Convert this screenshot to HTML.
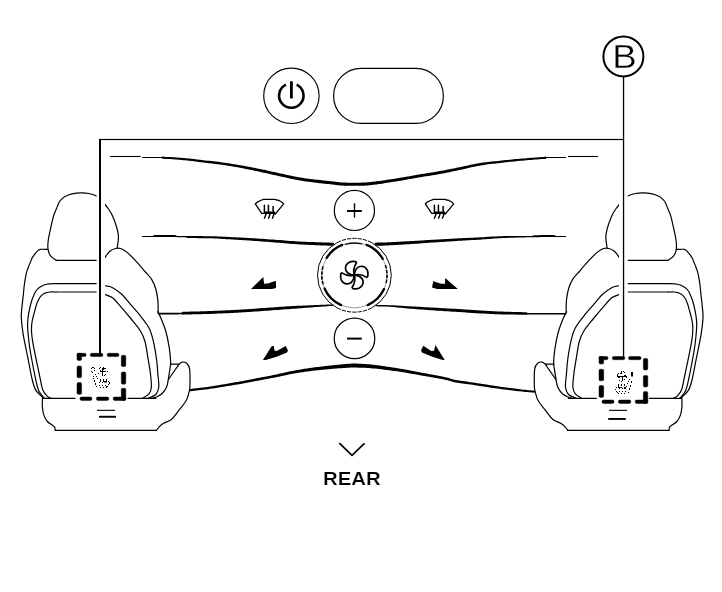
<!DOCTYPE html>
<html><head><meta charset="utf-8"><title>Rear heated seat controls</title>
<style>
html,body{margin:0;padding:0;background:#fff;}
body{width:722px;height:592px;overflow:hidden;font-family:"Liberation Sans",sans-serif;}
svg{display:block;}
</style></head>
<body>
<svg width="722" height="592" viewBox="0 0 722 592">
<rect width="722" height="592" fill="#fff"/>
<g fill="none" stroke="#000" stroke-width="1.2" stroke-linecap="round" stroke-linejoin="round">
<g id="seat"><path d="M117.20,247.80 C117.28,247.25 117.52,245.80 117.70,244.50 C117.88,243.20 118.20,241.58 118.30,240.00 C118.40,238.42 118.47,236.75 118.30,235.00 C118.13,233.25 117.73,231.30 117.30,229.50 C116.87,227.70 116.28,225.95 115.70,224.20 C115.12,222.45 114.48,220.70 113.80,219.00 C113.12,217.30 112.48,215.67 111.60,214.00 C110.72,212.33 109.60,210.58 108.50,209.00 C107.40,207.42 106.42,206.17 105.00,204.50 C103.58,202.83 101.50,200.45 100.00,199.00 C98.50,197.55 97.83,196.72 96.00,195.80 C94.17,194.88 91.50,194.00 89.00,193.50 C86.50,193.00 83.83,192.73 81.00,192.80 C78.17,192.87 74.67,193.28 72.00,193.90 C69.33,194.52 66.83,195.50 65.00,196.50 C63.17,197.50 62.02,198.87 61.00,199.90 C59.98,200.93 59.70,201.13 58.90,202.70 C58.10,204.27 57.10,207.07 56.20,209.30 C55.30,211.53 54.45,212.82 53.50,216.10 C52.55,219.38 51.37,225.02 50.50,229.00 C49.63,232.98 48.72,236.58 48.30,240.00 C47.88,243.42 47.58,246.80 48.00,249.50 C48.42,252.20 49.43,254.40 50.80,256.20 C52.17,258.00 55.30,259.62 56.20,260.30"/>
<path d="M56.2,260.3 L99,260.3 Q103,259.5 105.1,257.3"/>
<path d="M105.10,257.30 C105.90,256.28 108.20,252.67 109.90,251.20 C111.60,249.73 113.50,248.95 115.30,248.50 C117.10,248.05 118.68,247.82 120.70,248.50 C122.72,249.18 124.93,250.57 127.40,252.60 C129.87,254.63 132.57,257.55 135.50,260.70 C138.43,263.85 142.28,268.35 145.00,271.50 C147.72,274.65 150.00,276.68 151.80,279.60 C153.60,282.52 154.80,285.62 155.80,289.00 C156.80,292.38 157.40,295.95 157.80,299.90 C158.20,303.85 158.13,310.57 158.20,312.70"/>
<path d="M157.60,311.80 C158.08,312.70 159.10,313.83 160.50,317.20 C161.90,320.57 164.53,326.83 166.00,332.00 C167.47,337.17 168.52,343.02 169.30,348.20 C170.08,353.38 170.58,359.78 170.70,363.10 C170.82,366.42 170.35,365.68 170.00,368.10 C169.65,370.52 169.17,374.45 168.60,377.60 C168.03,380.75 167.72,384.30 166.60,387.00 C165.48,389.70 163.70,392.10 161.90,393.80 C160.10,395.50 157.38,396.45 155.80,397.20 C154.22,397.95 152.97,398.12 152.40,398.30"/>
<path d="M48.00,249.40 C47.33,249.38 45.32,249.30 44.00,249.30 C42.68,249.30 41.22,249.10 40.10,249.40 C38.98,249.70 38.28,250.18 37.30,251.10 C36.32,252.02 35.07,253.75 34.20,254.90 C33.33,256.05 32.73,256.78 32.10,258.00 C31.47,259.22 30.97,260.82 30.40,262.20 C29.83,263.58 29.28,264.80 28.70,266.30 C28.12,267.80 27.43,269.35 26.90,271.20 C26.37,273.05 25.93,275.10 25.50,277.40 C25.07,279.70 24.65,282.23 24.30,285.00 C23.95,287.77 23.80,290.23 23.40,294.00 C23.00,297.77 22.25,303.67 21.90,307.60 C21.55,311.53 21.10,313.23 21.30,317.60 C21.50,321.97 21.92,326.63 23.10,333.80 C24.28,340.97 26.87,352.90 28.40,360.60 C29.93,368.30 31.05,375.03 32.30,380.00 C33.55,384.97 34.17,387.50 35.90,390.40 C37.63,393.30 41.57,396.23 42.70,397.40"/>
<path d="M100,283.6 H60"/>
<path d="M60.00,283.60 C59.03,283.60 56.03,283.55 54.20,283.60 C52.37,283.65 50.58,283.70 49.00,283.90 C47.42,284.10 46.03,284.38 44.70,284.80 C43.37,285.22 42.12,285.77 41.00,286.40 C39.88,287.03 38.95,287.67 38.00,288.60 C37.05,289.53 36.10,290.63 35.30,292.00 C34.50,293.37 33.87,295.13 33.20,296.80 C32.53,298.47 31.85,300.20 31.30,302.00 C30.75,303.80 30.35,305.60 29.90,307.60 C29.45,309.60 28.95,311.88 28.60,314.00 C28.25,316.12 27.97,318.30 27.80,320.30 C27.63,322.30 27.58,324.22 27.60,326.00 C27.62,327.78 27.63,328.00 27.90,331.00 C28.17,334.00 28.62,339.58 29.20,344.00 C29.78,348.42 30.38,351.90 31.40,357.50 C32.42,363.10 34.10,372.12 35.30,377.60 C36.50,383.08 37.15,387.03 38.60,390.40 C40.05,393.77 43.10,396.57 44.00,397.80"/>
<path d="M100.00,283.80 C100.85,284.12 103.00,285.05 105.10,285.70 C107.20,286.35 109.78,286.23 112.60,287.70 C115.42,289.17 119.08,291.80 122.00,294.50 C124.92,297.20 127.05,300.35 130.10,303.90 C133.15,307.45 137.15,311.78 140.30,315.80 C143.45,319.82 146.87,323.95 149.00,328.00 C151.13,332.05 151.85,334.93 153.10,340.10 C154.35,345.27 155.72,353.43 156.50,359.00 C157.28,364.57 157.42,368.83 157.80,373.50 C158.18,378.17 159.13,383.50 158.80,387.00 C158.47,390.50 157.43,392.68 155.80,394.50 C154.17,396.32 150.13,397.33 149.00,397.90"/>
<path d="M100,292 H56"/>
<path d="M56.00,292.00 C55.02,292.00 51.68,291.90 50.10,292.00 C48.52,292.10 47.62,292.27 46.50,292.60 C45.38,292.93 44.38,293.37 43.40,294.00 C42.42,294.63 41.40,295.48 40.60,296.40 C39.80,297.32 39.25,298.23 38.60,299.50 C37.95,300.77 37.25,302.43 36.70,304.00 C36.15,305.57 35.82,307.07 35.30,308.90 C34.78,310.73 34.12,312.98 33.60,315.00 C33.08,317.02 32.55,319.00 32.20,321.00 C31.85,323.00 31.57,324.67 31.50,327.00 C31.43,329.33 31.52,332.07 31.80,335.00 C32.08,337.93 32.28,339.62 33.20,344.60 C34.12,349.58 36.10,359.05 37.30,364.90 C38.50,370.75 39.50,375.57 40.40,379.70 C41.30,383.83 41.63,387.02 42.70,389.70 C43.77,392.38 45.45,394.38 46.80,395.80 C48.15,397.22 50.13,397.80 50.80,398.20"/>
<path d="M100.00,292.00 C100.85,292.42 103.00,293.53 105.10,294.50 C107.20,295.47 110.00,295.78 112.60,297.80 C115.20,299.82 117.67,303.15 120.70,306.60 C123.73,310.05 127.53,314.48 130.80,318.50 C134.07,322.52 137.93,326.87 140.30,330.70 C142.67,334.53 143.77,337.22 145.00,341.50 C146.23,345.78 146.80,351.07 147.70,356.40 C148.60,361.73 149.78,368.40 150.40,373.50 C151.02,378.60 151.63,383.62 151.40,387.00 C151.17,390.38 150.40,391.98 149.00,393.80 C147.60,395.62 144.00,397.22 143.00,397.90"/>
<path d="M42.7,398.3 H75 M128,398.3 H156"/>
<path d="M42.40,398.00 C42.40,399.55 42.13,404.40 42.40,407.30 C42.67,410.20 43.17,413.03 44.00,415.40 C44.83,417.77 45.93,419.82 47.40,421.50 C48.87,423.18 51.60,424.60 52.80,425.50 C54.00,426.40 54.18,426.10 54.60,426.90 C55.02,427.70 55.18,429.73 55.30,430.30"/>
<path d="M55.3,430.3 H156.5"/>
<path d="M170.3,364.2 H178.3"/>
<path d="M178.10,364.90 C178.78,364.43 180.78,362.37 182.20,362.10 C183.62,361.83 185.37,362.15 186.60,363.30 C187.83,364.45 189.05,365.05 189.60,369.00 C190.15,372.95 190.02,383.10 189.90,387.00 C189.78,390.90 189.52,390.15 188.90,392.40 C188.28,394.65 188.00,397.33 186.20,400.50 C184.40,403.67 180.57,408.23 178.10,411.40 C175.63,414.57 173.88,417.48 171.40,419.50 C168.92,421.52 165.23,422.27 163.20,423.50 C161.17,424.73 160.32,425.77 159.20,426.90 C158.08,428.03 156.95,429.73 156.50,430.30"/>
<path d="M178.8,364.7 L168.4,379.5"/></g>
<g transform="translate(724.3,0) scale(-1,1)"><path d="M117.20,247.80 C117.28,247.25 117.52,245.80 117.70,244.50 C117.88,243.20 118.20,241.58 118.30,240.00 C118.40,238.42 118.47,236.75 118.30,235.00 C118.13,233.25 117.73,231.30 117.30,229.50 C116.87,227.70 116.28,225.95 115.70,224.20 C115.12,222.45 114.48,220.70 113.80,219.00 C113.12,217.30 112.48,215.67 111.60,214.00 C110.72,212.33 109.60,210.58 108.50,209.00 C107.40,207.42 106.42,206.17 105.00,204.50 C103.58,202.83 101.50,200.45 100.00,199.00 C98.50,197.55 97.83,196.72 96.00,195.80 C94.17,194.88 91.50,194.00 89.00,193.50 C86.50,193.00 83.83,192.73 81.00,192.80 C78.17,192.87 74.67,193.28 72.00,193.90 C69.33,194.52 66.83,195.50 65.00,196.50 C63.17,197.50 62.02,198.87 61.00,199.90 C59.98,200.93 59.70,201.13 58.90,202.70 C58.10,204.27 57.10,207.07 56.20,209.30 C55.30,211.53 54.45,212.82 53.50,216.10 C52.55,219.38 51.37,225.02 50.50,229.00 C49.63,232.98 48.72,236.58 48.30,240.00 C47.88,243.42 47.58,246.80 48.00,249.50 C48.42,252.20 49.43,254.40 50.80,256.20 C52.17,258.00 55.30,259.62 56.20,260.30"/>
<path d="M56.2,260.3 L99,260.3 Q103,259.5 105.1,257.3"/>
<path d="M105.10,257.30 C105.90,256.28 108.20,252.67 109.90,251.20 C111.60,249.73 113.50,248.95 115.30,248.50 C117.10,248.05 118.68,247.82 120.70,248.50 C122.72,249.18 124.93,250.57 127.40,252.60 C129.87,254.63 132.57,257.55 135.50,260.70 C138.43,263.85 142.28,268.35 145.00,271.50 C147.72,274.65 150.00,276.68 151.80,279.60 C153.60,282.52 154.80,285.62 155.80,289.00 C156.80,292.38 157.40,295.95 157.80,299.90 C158.20,303.85 158.13,310.57 158.20,312.70"/>
<path d="M157.60,311.80 C158.08,312.70 159.10,313.83 160.50,317.20 C161.90,320.57 164.53,326.83 166.00,332.00 C167.47,337.17 168.52,343.02 169.30,348.20 C170.08,353.38 170.58,359.78 170.70,363.10 C170.82,366.42 170.35,365.68 170.00,368.10 C169.65,370.52 169.17,374.45 168.60,377.60 C168.03,380.75 167.72,384.30 166.60,387.00 C165.48,389.70 163.70,392.10 161.90,393.80 C160.10,395.50 157.38,396.45 155.80,397.20 C154.22,397.95 152.97,398.12 152.40,398.30"/>
<path d="M48.00,249.40 C47.33,249.38 45.32,249.30 44.00,249.30 C42.68,249.30 41.22,249.10 40.10,249.40 C38.98,249.70 38.28,250.18 37.30,251.10 C36.32,252.02 35.07,253.75 34.20,254.90 C33.33,256.05 32.73,256.78 32.10,258.00 C31.47,259.22 30.97,260.82 30.40,262.20 C29.83,263.58 29.28,264.80 28.70,266.30 C28.12,267.80 27.43,269.35 26.90,271.20 C26.37,273.05 25.93,275.10 25.50,277.40 C25.07,279.70 24.65,282.23 24.30,285.00 C23.95,287.77 23.80,290.23 23.40,294.00 C23.00,297.77 22.25,303.67 21.90,307.60 C21.55,311.53 21.10,313.23 21.30,317.60 C21.50,321.97 21.92,326.63 23.10,333.80 C24.28,340.97 26.87,352.90 28.40,360.60 C29.93,368.30 31.05,375.03 32.30,380.00 C33.55,384.97 34.17,387.50 35.90,390.40 C37.63,393.30 41.57,396.23 42.70,397.40"/>
<path d="M100,283.6 H60"/>
<path d="M60.00,283.60 C59.03,283.60 56.03,283.55 54.20,283.60 C52.37,283.65 50.58,283.70 49.00,283.90 C47.42,284.10 46.03,284.38 44.70,284.80 C43.37,285.22 42.12,285.77 41.00,286.40 C39.88,287.03 38.95,287.67 38.00,288.60 C37.05,289.53 36.10,290.63 35.30,292.00 C34.50,293.37 33.87,295.13 33.20,296.80 C32.53,298.47 31.85,300.20 31.30,302.00 C30.75,303.80 30.35,305.60 29.90,307.60 C29.45,309.60 28.95,311.88 28.60,314.00 C28.25,316.12 27.97,318.30 27.80,320.30 C27.63,322.30 27.58,324.22 27.60,326.00 C27.62,327.78 27.63,328.00 27.90,331.00 C28.17,334.00 28.62,339.58 29.20,344.00 C29.78,348.42 30.38,351.90 31.40,357.50 C32.42,363.10 34.10,372.12 35.30,377.60 C36.50,383.08 37.15,387.03 38.60,390.40 C40.05,393.77 43.10,396.57 44.00,397.80"/>
<path d="M100.00,283.80 C100.85,284.12 103.00,285.05 105.10,285.70 C107.20,286.35 109.78,286.23 112.60,287.70 C115.42,289.17 119.08,291.80 122.00,294.50 C124.92,297.20 127.05,300.35 130.10,303.90 C133.15,307.45 137.15,311.78 140.30,315.80 C143.45,319.82 146.87,323.95 149.00,328.00 C151.13,332.05 151.85,334.93 153.10,340.10 C154.35,345.27 155.72,353.43 156.50,359.00 C157.28,364.57 157.42,368.83 157.80,373.50 C158.18,378.17 159.13,383.50 158.80,387.00 C158.47,390.50 157.43,392.68 155.80,394.50 C154.17,396.32 150.13,397.33 149.00,397.90"/>
<path d="M100,292 H56"/>
<path d="M56.00,292.00 C55.02,292.00 51.68,291.90 50.10,292.00 C48.52,292.10 47.62,292.27 46.50,292.60 C45.38,292.93 44.38,293.37 43.40,294.00 C42.42,294.63 41.40,295.48 40.60,296.40 C39.80,297.32 39.25,298.23 38.60,299.50 C37.95,300.77 37.25,302.43 36.70,304.00 C36.15,305.57 35.82,307.07 35.30,308.90 C34.78,310.73 34.12,312.98 33.60,315.00 C33.08,317.02 32.55,319.00 32.20,321.00 C31.85,323.00 31.57,324.67 31.50,327.00 C31.43,329.33 31.52,332.07 31.80,335.00 C32.08,337.93 32.28,339.62 33.20,344.60 C34.12,349.58 36.10,359.05 37.30,364.90 C38.50,370.75 39.50,375.57 40.40,379.70 C41.30,383.83 41.63,387.02 42.70,389.70 C43.77,392.38 45.45,394.38 46.80,395.80 C48.15,397.22 50.13,397.80 50.80,398.20"/>
<path d="M100.00,292.00 C100.85,292.42 103.00,293.53 105.10,294.50 C107.20,295.47 110.00,295.78 112.60,297.80 C115.20,299.82 117.67,303.15 120.70,306.60 C123.73,310.05 127.53,314.48 130.80,318.50 C134.07,322.52 137.93,326.87 140.30,330.70 C142.67,334.53 143.77,337.22 145.00,341.50 C146.23,345.78 146.80,351.07 147.70,356.40 C148.60,361.73 149.78,368.40 150.40,373.50 C151.02,378.60 151.63,383.62 151.40,387.00 C151.17,390.38 150.40,391.98 149.00,393.80 C147.60,395.62 144.00,397.22 143.00,397.90"/>
<path d="M42.7,398.3 H75 M128,398.3 H156"/>
<path d="M42.40,398.00 C42.40,399.55 42.13,404.40 42.40,407.30 C42.67,410.20 43.17,413.03 44.00,415.40 C44.83,417.77 45.93,419.82 47.40,421.50 C48.87,423.18 51.60,424.60 52.80,425.50 C54.00,426.40 54.18,426.10 54.60,426.90 C55.02,427.70 55.18,429.73 55.30,430.30"/>
<path d="M55.3,430.3 H156.5"/>
<path d="M170.3,364.2 H178.3"/>
<path d="M178.10,364.90 C178.78,364.43 180.78,362.37 182.20,362.10 C183.62,361.83 185.37,362.15 186.60,363.30 C187.83,364.45 189.05,365.05 189.60,369.00 C190.15,372.95 190.02,383.10 189.90,387.00 C189.78,390.90 189.52,390.15 188.90,392.40 C188.28,394.65 188.00,397.33 186.20,400.50 C184.40,403.67 180.57,408.23 178.10,411.40 C175.63,414.57 173.88,417.48 171.40,419.50 C168.92,421.52 165.23,422.27 163.20,423.50 C161.17,424.73 160.32,425.77 159.20,426.90 C158.08,428.03 156.95,429.73 156.50,430.30"/>
<path d="M178.8,364.7 L168.4,379.5"/></g>
</g>
<rect x="96.6" y="150" width="8.4" height="204" fill="#fff"/>
<rect x="619" y="150" width="8.8" height="207" fill="#fff"/>
<rect x="99" y="138.9" width="2" height="215.5" fill="#000"/>
<rect x="99" y="138.9" width="525" height="1.2" fill="#000"/>
<rect x="622.9" y="76" width="1.3" height="281" fill="#000"/>
<g fill="#000" stroke="#000" stroke-width="0.45"><rect x="77.0" y="353.3" width="9.0" height="3.3" rx="1.4"/><rect x="77.0" y="353.3" width="4.6" height="7.2" rx="1.4"/><rect x="90.3" y="353.3" width="12.5" height="3.3" rx="1.4"/><rect x="107.2" y="353.3" width="11.7" height="3.3" rx="1.4"/><rect x="121.3" y="355.3" width="4.5" height="11.3" rx="1.4"/><rect x="121.3" y="372.0" width="4.5" height="12.2" rx="1.4"/><rect x="121.3" y="388.2" width="4.5" height="12.2" rx="1.4"/><rect x="77.0" y="366.0" width="4.6" height="11.8" rx="1.4"/><rect x="77.0" y="382.6" width="4.6" height="11.7" rx="1.4"/><rect x="80.0" y="397.0" width="11.9" height="3.4" rx="1.4"/><rect x="96.4" y="397.0" width="12.4" height="3.4" rx="1.4"/><rect x="113.2" y="397.0" width="12.6" height="3.4" rx="1.4"/><rect x="599.0" y="356.5" width="9.0" height="3.2" rx="1.4"/><rect x="599.0" y="356.5" width="4.7" height="7.5" rx="1.4"/><rect x="612.3" y="356.5" width="12.5" height="3.2" rx="1.4"/><rect x="628.5" y="356.5" width="12.5" height="3.2" rx="1.4"/><rect x="643.3" y="358.5" width="4.5" height="11.5" rx="1.4"/><rect x="643.3" y="375.4" width="4.5" height="11.6" rx="1.4"/><rect x="643.3" y="391.6" width="4.5" height="11.8" rx="1.4"/><rect x="599.0" y="369.3" width="4.7" height="11.5" rx="1.4"/><rect x="599.0" y="385.5" width="4.7" height="11.9" rx="1.4"/><rect x="602.0" y="400.0" width="12.0" height="3.4" rx="1.4"/><rect x="618.4" y="400.0" width="12.4" height="3.4" rx="1.4"/><rect x="635.2" y="400.0" width="12.6" height="3.4" rx="1.4"/></g>
<g fill="#000"><rect x="97" y="409.8" width="18" height="1.1"/><rect x="99" y="415.8" width="17" height="1.9"/><rect x="609" y="409.8" width="18" height="1.1"/><rect x="608.2" y="418" width="17.6" height="1.9"/></g>
<g fill="#000"><rect x="92.0" y="367.0" width="2.0" height="1.0"/><rect x="91.0" y="368.0" width="1.0" height="1.0"/><rect x="94.0" y="368.0" width="1.0" height="1.0"/><rect x="94.0" y="370.0" width="1.0" height="1.0"/><rect x="91.0" y="371.0" width="1.0" height="1.0"/><rect x="92.0" y="372.0" width="1.0" height="1.0"/><rect x="95.0" y="374.0" width="1.0" height="1.0"/><rect x="98.0" y="373.0" width="1.0" height="1.0"/><rect x="93.0" y="376.0" width="1.0" height="1.0"/><rect x="96.0" y="376.0" width="1.0" height="1.0"/><rect x="93.0" y="378.0" width="1.0" height="1.0"/><rect x="97.0" y="378.0" width="1.0" height="1.0"/><rect x="94.0" y="380.0" width="1.0" height="2.0"/><rect x="95.0" y="383.0" width="1.0" height="2.0"/><rect x="96.0" y="386.0" width="1.0" height="1.0"/><rect x="100.0" y="367.0" width="1.0" height="1.0"/><rect x="99.0" y="368.0" width="1.0" height="1.0"/><rect x="103.0" y="367.0" width="1.0" height="1.0"/><rect x="103.0" y="368.0" width="3.0" height="1.0"/><rect x="102.0" y="369.0" width="2.0" height="1.0"/><rect x="100.0" y="370.0" width="1.0" height="1.0"/><rect x="100.0" y="371.0" width="6.0" height="1.0"/><rect x="107.0" y="371.0" width="1.0" height="1.0"/><rect x="102.0" y="368.0" width="1.0" height="8.0"/><rect x="105.0" y="374.0" width="1.0" height="1.0"/><rect x="104.0" y="375.0" width="1.0" height="1.0"/><rect x="100.0" y="379.0" width="1.0" height="3.0"/><rect x="99.0" y="382.0" width="1.0" height="1.0"/><rect x="103.0" y="379.0" width="1.0" height="3.0"/><rect x="102.0" y="382.0" width="1.0" height="1.0"/><rect x="106.0" y="379.0" width="1.0" height="3.0"/><rect x="104.0" y="381.0" width="3.0" height="1.5"/><rect x="108.0" y="381.0" width="1.0" height="1.0"/><rect x="109.0" y="382.0" width="1.0" height="2.0"/><rect x="108.0" y="384.0" width="1.0" height="1.0"/><rect x="99.0" y="385.0" width="1.0" height="1.0"/><rect x="100.0" y="387.0" width="1.0" height="1.0"/><rect x="102.0" y="385.0" width="1.0" height="1.0"/><rect x="103.0" y="387.0" width="1.0" height="1.0"/><rect x="105.0" y="385.0" width="1.0" height="1.0"/><rect x="106.0" y="386.0" width="1.0" height="2.0"/><rect x="107.0" y="386.0" width="1.0" height="1.0"/><rect x="621.0" y="371.0" width="1.0" height="3.0"/><rect x="623.0" y="371.0" width="1.0" height="1.0"/><rect x="624.0" y="372.0" width="1.0" height="1.0"/><rect x="618.0" y="373.0" width="1.0" height="1.0"/><rect x="620.0" y="373.0" width="1.0" height="1.0"/><rect x="617.0" y="374.0" width="1.0" height="3.0"/><rect x="617.0" y="376.0" width="9.0" height="1.0"/><rect x="618.0" y="377.0" width="2.0" height="1.0"/><rect x="624.0" y="375.0" width="2.0" height="1.0"/><rect x="626.0" y="376.0" width="1.0" height="2.0"/><rect x="622.0" y="376.0" width="1.0" height="5.0"/><rect x="619.0" y="380.0" width="1.0" height="1.0"/><rect x="624.0" y="379.0" width="1.0" height="1.0"/><rect x="621.0" y="381.0" width="1.0" height="1.0"/><rect x="631.0" y="372.0" width="2.0" height="4.5"/><rect x="629.0" y="379.0" width="1.0" height="1.0"/><rect x="628.0" y="381.0" width="1.0" height="1.0"/><rect x="631.0" y="381.0" width="1.0" height="2.0"/><rect x="627.0" y="383.0" width="1.0" height="1.0"/><rect x="630.0" y="385.0" width="1.0" height="2.0"/><rect x="629.0" y="388.0" width="1.0" height="2.0"/><rect x="628.0" y="392.0" width="1.0" height="1.0"/><rect x="618.0" y="384.0" width="1.0" height="4.0"/><rect x="621.0" y="384.0" width="1.0" height="2.0"/><rect x="624.0" y="384.0" width="1.0" height="2.0"/><rect x="626.0" y="386.0" width="1.0" height="1.0"/><rect x="619.0" y="387.0" width="3.0" height="1.0"/><rect x="619.0" y="388.0" width="1.0" height="1.0"/><rect x="622.0" y="388.0" width="1.0" height="1.0"/><rect x="624.0" y="387.0" width="2.0" height="2.0"/><rect x="616.0" y="387.0" width="1.0" height="1.0"/><rect x="615.0" y="389.0" width="1.0" height="1.0"/><rect x="616.0" y="391.0" width="1.0" height="1.0"/><rect x="617.0" y="392.0" width="1.0" height="1.0"/><rect x="618.0" y="393.0" width="1.0" height="1.0"/><rect x="619.0" y="391.0" width="1.0" height="1.0"/><rect x="622.0" y="391.0" width="1.0" height="1.0"/><rect x="625.0" y="391.0" width="1.0" height="1.0"/><rect x="621.0" y="393.0" width="1.0" height="1.0"/><rect x="624.0" y="393.0" width="1.0" height="1.0"/></g>
<path d="M110.00,157.05 L111.96,157.05 L114.67,157.05 L117.92,157.05 L121.54,157.05 L125.35,157.05 L129.16,157.05 L132.78,157.05 L136.03,157.05 L138.74,157.05 L140.70,157.05 L140.70,155.95 L138.74,155.95 L136.03,155.95 L132.78,155.95 L129.16,155.95 L125.35,155.95 L121.54,155.95 L117.92,155.95 L114.67,155.95 L111.96,155.95 L110.00,155.95Z" fill="#000"/>
<path d="M142.00,158.05 L143.24,158.05 L144.95,158.05 L147.00,158.04 L149.29,158.04 L151.69,158.03 L154.10,158.03 L156.40,158.03 L158.47,158.03 L160.21,158.04 L161.49,158.05 L162.29,158.43 L162.68,158.54 L162.45,158.45 L162.61,156.63 L162.53,156.64 L162.30,156.70 L162.05,156.84 L161.46,157.23 L162.04,158.61 L162.43,158.80 L163.00,158.83 L163.66,158.85 L164.42,158.87 L165.26,158.90 L166.16,158.92 L167.10,158.94 L168.07,158.97 L169.04,159.01 L170.01,159.05 L170.94,159.10 L171.87,159.16 L172.82,159.23 L173.78,159.31 L174.76,159.39 L175.76,159.48 L176.77,159.57 L177.79,159.66 L178.82,159.75 L179.86,159.85 L180.91,159.95 L181.98,160.04 L183.09,160.14 L184.23,160.24 L185.38,160.35 L186.53,160.45 L187.67,160.56 L188.79,160.67 L189.87,160.78 L190.90,160.88 L191.88,160.99 L192.73,161.10 L193.45,161.19 L194.08,161.29 L194.67,161.38 L195.26,161.48 L195.91,161.58 L196.65,161.70 L197.53,161.83 L198.58,161.97 L199.86,162.14 L201.38,162.32 L203.11,162.52 L204.99,162.73 L207.01,162.95 L209.12,163.18 L211.29,163.43 L213.49,163.68 L215.67,163.94 L217.79,164.21 L219.84,164.49 L221.83,164.77 L223.82,165.07 L225.82,165.37 L227.81,165.69 L229.81,166.01 L231.80,166.34 L233.79,166.68 L235.79,167.02 L237.79,167.37 L239.78,167.73 L241.77,168.10 L243.77,168.49 L245.76,168.88 L247.75,169.27 L249.74,169.68 L251.74,170.08 L253.73,170.50 L255.73,170.92 L257.72,171.34 L259.71,171.77 L261.71,172.19 L263.70,172.63 L265.70,173.07 L267.69,173.52 L269.69,173.97 L271.69,174.43 L273.69,174.88 L275.69,175.33 L277.69,175.78 L279.69,176.22 L281.69,176.66 L283.68,177.10 L285.68,177.55 L287.68,178.01 L289.69,178.45 L291.69,178.89 L293.70,179.32 L295.71,179.73 L297.73,180.12 L299.75,180.48 L301.80,180.82 L303.91,181.14 L306.05,181.44 L308.19,181.73 L310.31,182.00 L312.40,182.25 L314.41,182.49 L316.33,182.72 L318.14,182.94 L319.82,183.14 L321.35,183.32 L322.77,183.49 L324.08,183.63 L325.31,183.76 L326.47,183.89 L327.57,184.00 L328.64,184.11 L329.70,184.22 L330.75,184.33 L331.83,184.44 L332.89,184.56 L333.91,184.68 L334.89,184.81 L335.85,184.93 L336.81,185.05 L337.77,185.17 L338.75,185.28 L339.76,185.38 L340.81,185.47 L341.90,185.55 L343.04,185.61 L344.21,185.66 L345.41,185.70 L346.62,185.73 L347.85,185.76 L349.09,185.78 L350.33,185.79 L351.56,185.80 L352.79,185.80 L354.00,185.80 L355.23,185.80 L356.51,185.79 L357.81,185.77 L359.11,185.75 L360.41,185.73 L361.67,185.70 L362.89,185.67 L364.04,185.63 L365.10,185.59 L366.07,185.55 L366.92,185.50 L367.66,185.45 L368.31,185.40 L368.90,185.35 L369.43,185.29 L369.94,185.22 L370.44,185.16 L370.97,185.09 L371.53,185.02 L372.18,184.94 L372.83,184.86 L373.44,184.79 L374.04,184.72 L374.65,184.65 L375.30,184.58 L376.03,184.48 L376.85,184.38 L377.81,184.24 L378.92,184.08 L380.22,183.88 L381.73,183.66 L383.45,183.40 L385.34,183.11 L387.36,182.80 L389.47,182.47 L391.65,182.12 L393.85,181.77 L396.04,181.42 L398.18,181.07 L400.24,180.73 L402.24,180.39 L404.25,180.05 L406.25,179.70 L408.25,179.34 L410.26,178.99 L412.26,178.63 L414.25,178.27 L416.25,177.92 L418.25,177.57 L420.24,177.23 L422.23,176.90 L424.23,176.58 L426.22,176.26 L428.22,175.95 L430.22,175.64 L432.23,175.33 L434.23,175.01 L436.24,174.68 L438.25,174.33 L440.26,173.98 L442.27,173.59 L444.27,173.20 L446.28,172.79 L448.28,172.38 L450.28,171.96 L452.28,171.53 L454.28,171.10 L456.28,170.67 L458.28,170.25 L460.28,169.82 L462.28,169.39 L464.29,168.94 L466.29,168.48 L468.29,168.03 L470.28,167.57 L472.27,167.12 L474.26,166.69 L476.24,166.28 L478.23,165.89 L480.21,165.53 L482.19,165.20 L484.17,164.90 L486.15,164.62 L488.14,164.36 L490.13,164.11 L492.13,163.87 L494.12,163.64 L496.12,163.41 L498.12,163.18 L500.12,162.94 L502.12,162.72 L504.12,162.49 L506.12,162.27 L508.11,162.05 L510.11,161.84 L512.11,161.63 L514.10,161.43 L516.10,161.23 L518.10,161.04 L520.09,160.85 L522.16,160.66 L524.32,160.47 L526.54,160.28 L528.78,160.09 L530.99,159.91 L533.12,159.74 L535.14,159.58 L537.00,159.43 L538.66,159.31 L540.07,159.20 L541.22,159.12 L542.16,159.06 L542.91,159.02 L543.50,158.99 L543.97,158.97 L544.35,158.96 L544.67,158.96 L544.97,158.94 L545.28,158.93 L545.63,158.89 L546.05,158.70 L546.15,157.03 L545.79,156.83 L545.55,156.75 L545.38,156.71 L545.51,156.78 L545.35,158.52 L545.29,158.55 L545.71,158.45 L546.51,158.05 L547.79,158.03 L549.53,158.02 L551.60,158.02 L553.90,158.02 L556.31,158.02 L558.71,158.03 L561.00,158.04 L563.05,158.04 L564.76,158.05 L566.00,158.05 L566.00,156.95 L564.76,156.95 L563.05,156.94 L561.00,156.94 L558.72,156.93 L556.31,156.93 L553.90,156.92 L551.60,156.92 L549.53,156.92 L547.78,156.93 L546.49,156.95 L545.63,156.60 L545.09,156.56 L544.62,156.66 L544.46,158.49 L544.87,158.65 L545.12,158.70 L545.30,158.72 L545.23,158.61 L545.35,157.02 L545.37,156.91 L545.12,156.93 L544.87,156.95 L544.61,156.96 L544.29,156.97 L543.91,156.98 L543.42,156.99 L542.81,157.02 L542.04,157.06 L541.09,157.12 L539.93,157.20 L538.51,157.30 L536.85,157.42 L534.99,157.56 L532.97,157.71 L530.83,157.87 L528.61,158.04 L526.37,158.22 L524.14,158.39 L521.97,158.58 L519.91,158.75 L517.90,158.93 L515.90,159.12 L513.90,159.31 L511.89,159.50 L509.89,159.70 L507.89,159.91 L505.88,160.11 L503.88,160.32 L501.88,160.54 L499.88,160.76 L497.88,160.96 L495.88,161.16 L493.88,161.36 L491.87,161.56 L489.87,161.77 L487.86,161.99 L485.85,162.23 L483.83,162.48 L481.81,162.76 L479.79,163.07 L477.77,163.41 L475.76,163.78 L473.74,164.18 L471.73,164.60 L469.72,165.03 L467.71,165.47 L465.71,165.91 L463.71,166.34 L461.72,166.77 L459.72,167.18 L457.72,167.58 L455.72,167.99 L453.72,168.40 L451.72,168.81 L449.72,169.21 L447.72,169.61 L445.72,170.01 L443.73,170.39 L441.73,170.76 L439.74,171.12 L437.75,171.48 L435.76,171.82 L433.77,172.14 L431.77,172.46 L429.78,172.78 L427.78,173.09 L425.78,173.40 L423.77,173.71 L421.77,174.04 L419.76,174.37 L417.75,174.71 L415.75,175.06 L413.75,175.42 L411.74,175.77 L409.74,176.13 L407.75,176.49 L405.75,176.84 L403.75,177.19 L401.76,177.54 L399.76,177.87 L397.71,178.20 L395.58,178.54 L393.39,178.88 L391.20,179.22 L389.03,179.55 L386.91,179.87 L384.90,180.17 L383.01,180.45 L381.29,180.70 L379.78,180.92 L378.49,181.09 L377.39,181.24 L376.46,181.36 L375.65,181.46 L374.95,181.54 L374.31,181.60 L373.71,181.67 L373.12,181.73 L372.50,181.79 L371.82,181.86 L371.16,181.94 L370.57,182.01 L370.04,182.08 L369.55,182.15 L369.07,182.21 L368.58,182.26 L368.04,182.31 L367.44,182.36 L366.74,182.41 L365.93,182.45 L364.98,182.49 L363.93,182.53 L362.80,182.57 L361.59,182.60 L360.34,182.63 L359.06,182.65 L357.77,182.67 L356.48,182.69 L355.22,182.70 L354.00,182.70 L352.79,182.70 L351.57,182.70 L350.35,182.69 L349.12,182.68 L347.90,182.66 L346.69,182.64 L345.50,182.60 L344.33,182.56 L343.20,182.51 L342.10,182.45 L341.05,182.38 L340.05,182.29 L339.08,182.20 L338.13,182.09 L337.19,181.98 L336.24,181.86 L335.28,181.73 L334.29,181.61 L333.25,181.48 L332.17,181.36 L331.08,181.24 L330.01,181.13 L328.96,181.02 L327.89,180.91 L326.78,180.80 L325.64,180.68 L324.42,180.55 L323.12,180.41 L321.71,180.24 L320.18,180.06 L318.50,179.86 L316.69,179.66 L314.77,179.44 L312.76,179.21 L310.69,178.97 L308.58,178.71 L306.45,178.44 L304.34,178.15 L302.27,177.84 L300.25,177.52 L298.27,177.18 L296.29,176.80 L294.30,176.41 L292.31,176.00 L290.31,175.57 L288.32,175.14 L286.32,174.70 L284.32,174.25 L282.31,173.81 L280.31,173.38 L278.31,172.95 L276.31,172.52 L274.31,172.08 L272.31,171.64 L270.31,171.19 L268.31,170.75 L266.30,170.31 L264.30,169.87 L262.29,169.45 L260.29,169.03 L258.28,168.63 L256.27,168.23 L254.27,167.84 L252.26,167.46 L250.26,167.07 L248.25,166.70 L246.24,166.33 L244.23,165.97 L242.23,165.61 L240.22,165.27 L238.21,164.92 L236.21,164.58 L234.21,164.24 L232.20,163.91 L230.19,163.59 L228.19,163.28 L226.18,162.97 L224.18,162.67 L222.17,162.39 L220.16,162.11 L218.10,161.84 L215.95,161.58 L213.76,161.33 L211.55,161.09 L209.38,160.85 L207.26,160.63 L205.24,160.42 L203.36,160.22 L201.64,160.03 L200.14,159.86 L198.87,159.71 L197.83,159.58 L196.98,159.46 L196.25,159.36 L195.61,159.26 L195.01,159.17 L194.40,159.08 L193.75,158.99 L193.00,158.90 L192.12,158.81 L191.13,158.71 L190.08,158.60 L188.99,158.51 L187.87,158.41 L186.72,158.31 L185.56,158.21 L184.41,158.12 L183.27,158.03 L182.16,157.94 L181.09,157.85 L180.04,157.77 L179.00,157.68 L177.97,157.60 L176.94,157.52 L175.93,157.44 L174.93,157.36 L173.94,157.29 L172.96,157.22 L172.00,157.16 L171.06,157.10 L170.10,157.05 L169.12,157.01 L168.14,156.97 L167.16,156.94 L166.21,156.92 L165.31,156.90 L164.48,156.87 L163.73,156.85 L163.08,156.83 L162.57,156.80 L162.32,156.92 L162.77,158.24 L162.41,158.56 L162.59,158.63 L162.84,158.62 L163.13,158.56 L163.39,156.69 L162.85,156.54 L162.35,156.60 L161.51,156.95 L160.21,156.94 L158.47,156.93 L156.40,156.93 L154.10,156.93 L151.69,156.93 L149.28,156.94 L147.00,156.94 L144.95,156.95 L143.24,156.95 L142.00,156.95Z" fill="#000"/>
<path d="M568.00,157.05 L569.92,157.05 L572.56,157.05 L575.74,157.05 L579.28,157.05 L583.00,157.05 L586.72,157.05 L590.26,157.05 L593.44,157.05 L596.08,157.05 L598.00,157.05 L598.00,155.95 L596.08,155.95 L593.44,155.95 L590.26,155.95 L586.72,155.95 L583.00,155.95 L579.28,155.95 L575.74,155.95 L572.56,155.95 L569.92,155.95 L568.00,155.95Z" fill="#000"/>
<path d="M142.00,237.05 L142.73,237.05 L143.73,237.06 L144.93,237.06 L146.27,237.07 L147.69,237.07 L149.10,237.08 L150.46,237.08 L151.69,237.08 L152.73,237.07 L153.52,237.05 L154.02,237.22 L154.84,236.64 L154.15,235.67 L153.84,235.71 L153.54,235.76 L153.35,235.72 L153.63,236.32 L153.30,236.71 L153.69,236.75 L154.52,237.10 L155.86,237.08 L157.67,237.07 L159.83,237.06 L162.23,237.05 L164.75,237.05 L167.27,237.05 L169.67,237.06 L171.83,237.07 L173.64,237.08 L174.98,237.10 L175.82,236.79 L176.22,236.75 L175.92,236.51 L176.17,235.67 L176.01,235.70 L175.73,235.69 L175.43,235.66 L174.72,236.31 L175.50,237.22 L175.97,237.10 L176.70,237.12 L177.64,237.13 L178.75,237.14 L179.97,237.15 L181.25,237.15 L182.53,237.15 L183.75,237.16 L184.85,237.17 L185.78,237.18 L186.47,237.20 L186.77,237.37 L186.53,236.00 L186.64,236.01 L186.37,236.15 L186.04,236.19 L185.72,236.25 L185.34,237.29 L185.88,237.52 L186.46,237.56 L187.47,238.00 L189.01,238.03 L190.99,238.06 L193.32,238.09 L195.91,238.12 L198.68,238.14 L201.53,238.17 L204.38,238.20 L207.12,238.24 L209.69,238.29 L211.97,238.35 L214.02,238.43 L215.94,238.51 L217.76,238.60 L219.52,238.70 L221.22,238.80 L222.90,238.91 L224.59,239.01 L226.31,239.13 L228.08,239.24 L229.94,239.35 L231.84,239.46 L233.73,239.56 L235.64,239.67 L237.55,239.78 L239.50,239.89 L241.48,240.01 L243.50,240.13 L245.58,240.26 L247.71,240.40 L249.92,240.55 L252.21,240.71 L254.59,240.88 L257.04,241.06 L259.55,241.25 L262.09,241.45 L264.66,241.64 L267.24,241.85 L269.82,242.05 L272.38,242.25 L274.90,242.45 L277.39,242.65 L279.89,242.85 L282.39,243.07 L284.89,243.28 L287.39,243.50 L289.89,243.71 L292.39,243.91 L294.90,244.10 L297.41,244.28 L299.92,244.45 L302.50,244.60 L305.19,244.74 L307.94,244.87 L310.71,244.99 L313.45,245.10 L316.10,245.21 L318.62,245.30 L320.97,245.39 L323.09,245.47 L324.94,245.55 L326.53,245.61 L327.91,245.66 L329.11,245.70 L330.13,245.73 L331.01,245.76 L331.77,245.78 L332.42,245.80 L332.99,245.82 L333.49,245.83 L333.95,245.85 L334.05,242.75 L333.58,242.74 L333.08,242.72 L332.51,242.70 L331.86,242.69 L331.11,242.66 L330.23,242.64 L329.21,242.60 L328.02,242.56 L326.65,242.51 L325.06,242.45 L323.20,242.39 L321.08,242.33 L318.73,242.26 L316.20,242.18 L313.55,242.10 L310.83,242.01 L308.07,241.91 L305.32,241.80 L302.65,241.68 L300.08,241.55 L297.59,241.41 L295.10,241.25 L292.61,241.08 L290.11,240.89 L287.61,240.70 L285.11,240.51 L282.61,240.32 L280.11,240.12 L277.61,239.93 L275.10,239.75 L272.58,239.58 L270.02,239.40 L267.44,239.21 L264.86,239.03 L262.28,238.85 L259.73,238.68 L257.22,238.51 L254.77,238.35 L252.38,238.19 L250.08,238.05 L247.86,237.92 L245.72,237.81 L243.64,237.70 L241.61,237.59 L239.63,237.50 L237.68,237.41 L235.76,237.32 L233.85,237.23 L231.96,237.14 L230.06,237.05 L228.21,236.96 L226.44,236.87 L224.72,236.78 L223.03,236.69 L221.34,236.60 L219.63,236.52 L217.87,236.44 L216.03,236.37 L214.09,236.30 L212.03,236.25 L209.73,236.20 L207.16,236.16 L204.40,236.13 L201.55,236.11 L198.70,236.10 L195.93,236.08 L193.34,236.07 L191.01,236.05 L189.04,236.03 L187.53,236.00 L186.52,236.36 L186.02,236.33 L186.21,236.47 L186.01,237.41 L186.21,237.38 L186.54,237.34 L186.88,237.39 L187.33,237.32 L186.99,235.88 L186.53,236.00 L185.80,235.98 L184.86,235.97 L183.75,235.96 L182.53,235.95 L181.25,235.95 L179.97,235.95 L178.75,235.94 L177.65,235.93 L176.72,235.92 L176.03,235.90 L175.70,235.72 L176.29,236.56 L175.81,237.12 L175.97,236.99 L176.24,236.88 L176.52,236.82 L176.95,235.89 L176.37,235.56 L175.88,235.46 L175.02,235.10 L173.66,235.08 L171.84,235.07 L169.67,235.06 L167.27,235.05 L164.75,235.05 L162.23,235.05 L159.83,235.06 L157.66,235.07 L155.84,235.08 L154.48,235.10 L153.63,235.51 L153.14,235.62 L152.56,236.08 L153.05,236.78 L153.33,236.84 L153.60,236.99 L153.76,237.13 L153.28,236.24 L153.86,235.73 L153.48,235.95 L152.72,235.97 L151.68,235.98 L150.46,235.98 L149.10,235.98 L147.69,235.98 L146.28,235.97 L144.94,235.96 L143.73,235.96 L142.73,235.95 L142.00,235.95Z" fill="#000"/>
<path d="M374.82,245.75 L375.42,245.74 L376.16,245.73 L377.03,245.72 L378.02,245.71 L379.10,245.70 L380.25,245.68 L381.46,245.66 L382.71,245.63 L383.99,245.59 L385.26,245.55 L386.57,245.49 L387.94,245.43 L389.37,245.36 L390.84,245.28 L392.36,245.19 L393.89,245.10 L395.44,245.01 L397.00,244.92 L398.55,244.83 L400.09,244.75 L401.63,244.65 L403.19,244.56 L404.77,244.46 L406.37,244.36 L407.97,244.26 L409.56,244.16 L411.15,244.06 L412.72,243.95 L414.27,243.85 L415.79,243.75 L417.28,243.65 L418.72,243.54 L420.14,243.44 L421.54,243.33 L422.94,243.22 L424.33,243.11 L425.73,243.01 L427.15,242.90 L428.60,242.80 L430.09,242.70 L431.62,242.59 L433.20,242.49 L434.81,242.39 L436.45,242.29 L438.09,242.19 L439.73,242.09 L441.37,241.99 L442.97,241.90 L444.55,241.80 L446.08,241.70 L447.54,241.60 L448.92,241.51 L450.25,241.42 L451.56,241.32 L452.86,241.23 L454.17,241.14 L455.53,241.04 L456.95,240.95 L458.45,240.85 L460.07,240.75 L461.80,240.64 L463.63,240.54 L465.53,240.44 L467.50,240.33 L469.51,240.23 L471.56,240.12 L473.63,240.00 L475.69,239.89 L477.74,239.77 L479.77,239.65 L481.78,239.51 L483.80,239.36 L485.83,239.21 L487.87,239.05 L489.91,238.88 L491.95,238.73 L493.98,238.58 L496.01,238.44 L498.03,238.31 L500.04,238.20 L502.08,238.09 L504.16,238.00 L506.26,237.92 L508.37,237.84 L510.47,237.78 L512.53,237.72 L514.53,237.67 L516.46,237.61 L518.30,237.56 L520.01,237.50 L521.65,237.46 L523.25,237.42 L524.81,237.38 L526.29,237.35 L527.70,237.31 L529.02,237.28 L530.22,237.25 L531.30,237.21 L532.24,237.18 L533.03,237.15 L533.58,237.29 L534.21,237.13 L533.76,235.57 L533.45,235.60 L533.14,235.67 L532.91,235.66 L533.25,235.96 L532.84,236.89 L533.21,236.94 L534.02,237.20 L535.33,237.18 L537.10,237.16 L539.21,237.14 L541.55,237.12 L544.01,237.11 L546.46,237.09 L548.80,237.09 L550.91,237.08 L552.68,237.09 L553.98,237.10 L554.80,236.75 L555.18,236.70 L554.86,236.38 L555.13,235.72 L554.95,235.75 L554.67,235.71 L554.36,235.68 L553.69,236.60 L554.50,237.21 L554.98,237.05 L555.74,237.07 L556.73,237.08 L557.91,237.08 L559.21,237.08 L560.56,237.07 L561.91,237.07 L563.20,237.06 L564.35,237.06 L565.30,237.05 L566.00,237.05 L566.00,235.95 L565.30,235.95 L564.34,235.96 L563.19,235.96 L561.91,235.97 L560.56,235.98 L559.21,235.98 L557.91,235.98 L556.74,235.98 L555.75,235.97 L555.02,235.95 L554.67,235.74 L555.24,236.27 L554.77,237.11 L554.92,236.98 L555.17,236.83 L555.45,236.77 L555.90,236.01 L555.33,235.61 L554.85,235.49 L554.02,235.10 L552.69,235.09 L550.91,235.08 L548.80,235.09 L546.45,235.09 L543.99,235.11 L541.54,235.12 L539.19,235.14 L537.08,235.16 L535.30,235.18 L533.98,235.20 L533.16,235.51 L532.71,235.60 L532.11,236.59 L532.70,236.95 L532.98,237.00 L533.25,237.14 L533.41,237.24 L533.12,235.74 L533.42,235.65 L532.97,235.85 L532.20,235.88 L531.26,235.90 L530.19,235.93 L528.98,235.95 L527.67,235.97 L526.27,236.00 L524.78,236.02 L523.23,236.05 L521.62,236.07 L519.99,236.10 L518.27,236.11 L516.44,236.11 L514.51,236.10 L512.51,236.10 L510.44,236.09 L508.34,236.10 L506.22,236.10 L504.11,236.12 L502.01,236.15 L499.96,236.20 L497.93,236.28 L495.89,236.38 L493.85,236.49 L491.80,236.61 L489.76,236.74 L487.71,236.87 L485.68,237.00 L483.65,237.13 L481.64,237.25 L479.63,237.35 L477.62,237.45 L475.57,237.55 L473.51,237.65 L471.45,237.74 L469.40,237.82 L467.38,237.91 L465.41,238.00 L463.50,238.08 L461.67,238.17 L459.93,238.25 L458.30,238.34 L456.79,238.43 L455.36,238.51 L454.00,238.60 L452.68,238.68 L451.38,238.77 L450.08,238.85 L448.75,238.93 L447.37,239.02 L445.92,239.10 L444.40,239.18 L442.83,239.26 L441.22,239.34 L439.59,239.42 L437.95,239.50 L436.30,239.57 L434.66,239.65 L433.04,239.74 L431.46,239.82 L429.91,239.90 L428.41,239.99 L426.96,240.09 L425.53,240.18 L424.12,240.28 L422.73,240.38 L421.33,240.48 L419.94,240.57 L418.52,240.67 L417.08,240.76 L415.61,240.85 L414.09,240.94 L412.55,241.02 L410.98,241.10 L409.39,241.18 L407.80,241.27 L406.20,241.34 L404.60,241.42 L403.02,241.50 L401.45,241.58 L399.91,241.65 L398.38,241.74 L396.82,241.83 L395.27,241.92 L393.72,242.01 L392.18,242.10 L390.68,242.18 L389.21,242.26 L387.79,242.33 L386.43,242.40 L385.14,242.45 L383.88,242.50 L382.63,242.53 L381.40,242.56 L380.20,242.58 L379.05,242.60 L377.98,242.61 L377.00,242.62 L376.13,242.63 L375.38,242.64 L374.78,242.65Z" fill="#000"/>
<path d="M158.20,314.40 L159.69,314.40 L161.72,314.40 L164.17,314.40 L166.89,314.40 L169.76,314.39 L172.63,314.39 L175.38,314.38 L177.87,314.38 L179.96,314.37 L181.51,314.35 L182.47,314.67 L182.99,314.80 L183.18,312.11 L182.75,312.15 L182.36,312.25 L182.00,312.36 L181.92,312.45 L181.83,314.18 L182.14,314.30 L183.05,314.60 L184.48,314.56 L186.28,314.51 L188.39,314.46 L190.73,314.41 L193.25,314.36 L195.87,314.30 L198.53,314.24 L201.16,314.18 L203.69,314.12 L206.05,314.05 L208.31,313.97 L210.60,313.89 L212.89,313.80 L215.17,313.71 L217.44,313.62 L219.67,313.52 L221.86,313.43 L224.00,313.33 L226.07,313.24 L228.07,313.15 L229.93,313.06 L231.66,312.98 L233.28,312.91 L234.85,312.83 L236.39,312.75 L237.94,312.67 L239.55,312.58 L241.25,312.49 L243.09,312.37 L245.09,312.25 L247.27,312.10 L249.59,311.94 L252.02,311.77 L254.53,311.59 L257.11,311.40 L259.72,311.20 L262.35,311.01 L264.98,310.81 L267.57,310.63 L270.10,310.45 L272.62,310.27 L275.18,310.08 L277.76,309.90 L280.34,309.71 L282.91,309.53 L285.46,309.36 L287.96,309.18 L290.41,309.01 L292.79,308.85 L295.09,308.70 L297.30,308.51 L299.43,308.34 L301.51,308.17 L303.53,308.00 L305.51,307.85 L307.45,307.69 L309.37,307.54 L311.27,307.39 L313.16,307.25 L315.06,307.10 L317.02,306.96 L319.07,306.81 L321.16,306.67 L323.26,306.52 L325.30,306.38 L327.24,306.25 L329.03,306.12 L330.63,306.02 L331.98,305.92 L333.04,305.85 L332.96,304.35 L331.90,304.40 L330.54,304.45 L328.94,304.52 L327.15,304.59 L325.20,304.67 L323.16,304.75 L321.06,304.84 L318.96,304.93 L316.91,305.02 L314.94,305.10 L313.04,305.17 L311.15,305.25 L309.24,305.32 L307.32,305.39 L305.37,305.47 L303.38,305.55 L301.35,305.63 L299.27,305.71 L297.13,305.81 L294.91,305.90 L292.61,306.05 L290.23,306.20 L287.77,306.36 L285.26,306.52 L282.72,306.69 L280.14,306.86 L277.56,307.04 L274.98,307.21 L272.42,307.38 L269.90,307.55 L267.36,307.73 L264.77,307.92 L262.14,308.11 L259.51,308.31 L256.89,308.50 L254.32,308.69 L251.81,308.88 L249.39,309.05 L247.08,309.21 L244.91,309.35 L242.91,309.48 L241.08,309.59 L239.39,309.69 L237.79,309.78 L236.24,309.86 L234.70,309.93 L233.15,310.01 L231.52,310.09 L229.80,310.17 L227.93,310.25 L225.94,310.34 L223.87,310.44 L221.74,310.53 L219.55,310.63 L217.31,310.72 L215.05,310.81 L212.77,310.90 L210.49,310.99 L208.21,311.07 L205.95,311.15 L203.60,311.23 L201.08,311.31 L198.46,311.38 L195.81,311.45 L193.19,311.52 L190.67,311.58 L188.32,311.64 L186.20,311.70 L184.39,311.75 L182.95,311.80 L182.01,312.18 L181.51,312.38 L181.39,314.19 L181.80,314.34 L182.18,314.51 L182.53,314.67 L182.57,314.75 L182.71,312.12 L182.40,312.29 L181.49,312.65 L179.94,312.67 L177.86,312.69 L175.37,312.71 L172.63,312.73 L169.75,312.74 L166.89,312.76 L164.16,312.77 L161.72,312.78 L159.68,312.79 L158.20,312.80Z" fill="#000"/>
<path d="M375.28,306.30 L376.14,306.32 L377.20,306.35 L378.45,306.38 L379.85,306.41 L381.39,306.45 L383.01,306.49 L384.71,306.55 L386.46,306.62 L388.21,306.70 L389.96,306.80 L391.71,306.94 L393.52,307.10 L395.38,307.27 L397.30,307.46 L399.28,307.66 L401.30,307.86 L403.38,308.07 L405.51,308.28 L407.69,308.49 L409.92,308.70 L412.22,308.87 L414.60,309.05 L417.05,309.23 L419.56,309.41 L422.11,309.59 L424.68,309.78 L427.26,309.96 L429.84,310.14 L432.39,310.32 L434.91,310.50 L437.44,310.66 L440.00,310.83 L442.58,310.99 L445.17,311.16 L447.75,311.32 L450.30,311.48 L452.80,311.64 L455.25,311.79 L457.62,311.95 L459.91,312.10 L462.08,312.24 L464.14,312.37 L466.11,312.51 L468.03,312.64 L469.92,312.77 L471.78,312.90 L473.67,313.03 L475.58,313.15 L477.56,313.28 L479.61,313.40 L481.73,313.51 L483.88,313.62 L486.06,313.73 L488.27,313.84 L490.51,313.95 L492.76,314.05 L495.04,314.15 L497.33,314.24 L499.63,314.32 L501.95,314.40 L504.39,314.46 L507.01,314.51 L509.74,314.55 L512.51,314.59 L515.25,314.62 L517.88,314.65 L520.34,314.68 L522.56,314.70 L524.46,314.72 L525.97,314.75 L526.88,314.55 L526.89,314.44 L526.99,312.61 L526.59,312.52 L526.06,312.41 L525.58,312.40 L524.29,313.13 L525.60,314.93 L526.42,314.83 L528.00,314.45 L530.53,314.46 L533.95,314.46 L538.03,314.46 L542.54,314.46 L547.28,314.46 L552.00,314.46 L556.48,314.46 L560.51,314.45 L563.86,314.45 L566.30,314.45 L566.30,312.95 L563.86,312.95 L560.51,312.95 L556.48,312.96 L551.99,312.96 L547.27,312.96 L542.54,312.96 L538.03,312.96 L533.95,312.96 L530.53,312.96 L528.00,312.95 L526.44,312.55 L525.66,312.43 L526.56,314.20 L525.70,314.90 L526.15,314.85 L526.69,314.70 L527.16,314.57 L527.56,312.68 L526.98,312.52 L526.03,312.25 L524.51,312.21 L522.60,312.16 L520.38,312.11 L517.92,312.05 L515.29,311.99 L512.56,311.92 L509.80,311.85 L507.08,311.78 L504.47,311.69 L502.05,311.60 L499.74,311.51 L497.45,311.40 L495.17,311.29 L492.90,311.17 L490.66,311.05 L488.43,310.92 L486.23,310.79 L484.05,310.66 L481.90,310.53 L479.79,310.40 L477.74,310.28 L475.77,310.16 L473.87,310.03 L471.99,309.91 L470.12,309.78 L468.24,309.65 L466.32,309.51 L464.34,309.38 L462.27,309.24 L460.09,309.10 L457.81,308.97 L455.43,308.84 L452.98,308.70 L450.47,308.56 L447.92,308.42 L445.34,308.28 L442.75,308.14 L440.17,307.99 L437.61,307.85 L435.09,307.70 L432.56,307.57 L430.00,307.43 L427.43,307.29 L424.84,307.15 L422.27,307.01 L419.72,306.86 L417.21,306.72 L414.76,306.58 L412.38,306.44 L410.08,306.30 L407.86,306.19 L405.68,306.07 L403.55,305.94 L401.47,305.82 L399.44,305.69 L397.45,305.57 L395.52,305.46 L393.64,305.36 L391.82,305.27 L390.04,305.20 L388.28,305.13 L386.51,305.07 L384.76,305.02 L383.05,304.99 L381.41,304.96 L379.88,304.95 L378.47,304.93 L377.23,304.92 L376.16,304.91 L375.32,304.90Z" fill="#000"/>
<path d="M189.93,391.29 L191.11,391.15 L192.60,390.98 L194.35,390.79 L196.32,390.57 L198.47,390.32 L200.74,390.05 L203.09,389.77 L205.48,389.47 L207.85,389.16 L210.17,388.84 L212.48,388.50 L214.87,388.15 L217.33,387.77 L219.85,387.37 L222.40,386.96 L224.97,386.55 L227.55,386.12 L230.13,385.69 L232.69,385.26 L235.22,384.83 L237.76,384.39 L240.38,383.93 L243.04,383.45 L245.71,382.96 L248.36,382.48 L250.96,382.00 L253.47,381.54 L255.88,381.09 L258.14,380.67 L260.24,380.28 L262.12,379.93 L263.80,379.62 L265.32,379.34 L266.73,379.08 L268.06,378.83 L269.37,378.58 L270.71,378.32 L272.10,378.05 L273.61,377.75 L275.27,377.42 L277.06,377.06 L278.89,376.67 L280.78,376.26 L282.70,375.84 L284.68,375.41 L286.70,374.97 L288.76,374.54 L290.88,374.12 L293.04,373.72 L295.25,373.33 L297.54,372.95 L299.91,372.58 L302.36,372.21 L304.86,371.85 L307.40,371.49 L309.97,371.14 L312.55,370.81 L315.12,370.48 L317.67,370.18 L320.19,369.89 L322.74,369.63 L325.38,369.39 L328.08,369.16 L330.79,368.94 L333.47,368.73 L336.09,368.54 L338.61,368.36 L340.98,368.20 L343.17,368.06 L345.14,367.94 L346.84,367.83 L348.27,367.73 L349.49,367.65 L350.55,367.60 L351.51,367.56 L352.43,367.53 L353.37,367.53 L354.40,367.54 L355.57,367.56 L356.95,367.60 L358.46,367.63 L360.03,367.67 L361.65,367.72 L363.33,367.78 L365.07,367.87 L366.87,367.97 L368.75,368.09 L370.69,368.23 L372.71,368.40 L374.81,368.59 L377.01,368.81 L379.34,369.06 L381.77,369.34 L384.27,369.64 L386.84,369.96 L389.43,370.29 L392.05,370.64 L394.65,371.00 L397.23,371.36 L399.76,371.73 L402.27,372.12 L404.82,372.54 L407.39,372.98 L409.97,373.42 L412.54,373.88 L415.09,374.34 L417.60,374.79 L420.06,375.24 L422.45,375.67 L424.75,376.08 L427.00,376.47 L429.22,376.86 L431.42,377.24 L433.56,377.62 L435.65,377.98 L437.66,378.34 L439.59,378.68 L441.42,379.02 L443.14,379.35 L444.73,379.67 L446.12,379.98 L447.29,380.26 L448.30,380.54 L449.21,380.81 L450.07,381.07 L450.95,381.34 L451.90,381.61 L452.95,381.88 L454.16,382.15 L455.57,382.43 L457.15,382.70 L458.82,382.97 L460.58,383.23 L462.42,383.49 L464.35,383.75 L466.33,384.02 L468.38,384.29 L470.49,384.58 L472.64,384.87 L474.82,385.19 L477.11,385.53 L479.53,385.89 L482.05,386.28 L484.64,386.68 L487.27,387.08 L489.90,387.48 L492.51,387.88 L495.06,388.25 L497.51,388.61 L499.84,388.94 L502.07,389.24 L504.25,389.52 L506.38,389.79 L508.45,390.04 L510.48,390.28 L512.46,390.51 L514.38,390.73 L516.26,390.95 L518.10,391.15 L519.88,391.34 L521.67,391.54 L523.48,391.72 L525.29,391.90 L527.06,392.07 L528.75,392.22 L530.35,392.37 L531.82,392.50 L533.12,392.61 L534.22,392.71 L535.10,392.80 L535.30,390.80 L534.41,390.72 L533.30,390.61 L532.00,390.49 L530.54,390.34 L528.95,390.19 L527.25,390.02 L525.49,389.84 L523.70,389.66 L521.89,389.46 L520.12,389.26 L518.34,389.04 L516.51,388.82 L514.64,388.59 L512.72,388.36 L510.75,388.11 L508.73,387.84 L506.66,387.57 L504.55,387.28 L502.38,386.98 L500.16,386.66 L497.84,386.33 L495.40,385.96 L492.86,385.57 L490.26,385.17 L487.63,384.76 L485.00,384.34 L482.41,383.94 L479.89,383.54 L477.47,383.16 L475.18,382.81 L472.98,382.49 L470.82,382.18 L468.71,381.88 L466.66,381.60 L464.68,381.32 L462.77,381.05 L460.94,380.78 L459.20,380.52 L457.56,380.25 L456.03,379.97 L454.68,379.70 L453.55,379.43 L452.57,379.17 L451.68,378.91 L450.83,378.64 L449.95,378.36 L449.01,378.07 L447.94,377.77 L446.71,377.46 L445.27,377.13 L443.65,376.79 L441.92,376.44 L440.08,376.08 L438.14,375.71 L436.13,375.33 L434.04,374.95 L431.90,374.55 L429.71,374.15 L427.49,373.74 L425.25,373.32 L422.96,372.89 L420.58,372.43 L418.13,371.96 L415.63,371.47 L413.08,370.98 L410.51,370.49 L407.92,370.01 L405.34,369.54 L402.77,369.09 L400.24,368.67 L397.71,368.25 L395.12,367.83 L392.51,367.42 L389.89,367.02 L387.29,366.63 L384.72,366.26 L382.20,365.91 L379.76,365.58 L377.42,365.28 L375.19,365.01 L373.07,364.77 L371.02,364.55 L369.05,364.37 L367.14,364.20 L365.31,364.06 L363.54,363.93 L361.83,363.83 L360.18,363.74 L358.59,363.66 L357.05,363.60 L355.66,363.57 L354.45,363.56 L353.36,363.56 L352.35,363.57 L351.36,363.61 L350.34,363.66 L349.24,363.73 L348.00,363.81 L346.56,363.92 L344.86,364.06 L342.88,364.23 L340.68,364.43 L338.30,364.66 L335.78,364.90 L333.15,365.17 L330.46,365.45 L327.74,365.75 L325.04,366.06 L322.38,366.38 L319.81,366.71 L317.28,367.03 L314.72,367.37 L312.14,367.73 L309.55,368.09 L306.97,368.47 L304.42,368.86 L301.90,369.26 L299.45,369.66 L297.06,370.07 L294.75,370.47 L292.51,370.89 L290.32,371.32 L288.19,371.77 L286.10,372.22 L284.07,372.68 L282.10,373.13 L280.17,373.57 L278.31,374.00 L276.49,374.40 L274.73,374.78 L273.08,375.12 L271.58,375.42 L270.19,375.70 L268.87,375.97 L267.56,376.22 L266.23,376.48 L264.83,376.75 L263.32,377.04 L261.64,377.36 L259.76,377.72 L257.67,378.12 L255.40,378.55 L253.00,379.01 L250.48,379.48 L247.89,379.97 L245.25,380.46 L242.59,380.96 L239.94,381.44 L237.33,381.92 L234.78,382.37 L232.27,382.82 L229.72,383.27 L227.14,383.71 L224.57,384.16 L222.00,384.60 L219.46,385.03 L216.96,385.44 L214.51,385.84 L212.13,386.21 L209.83,386.56 L207.54,386.89 L205.18,387.21 L202.81,387.52 L200.47,387.82 L198.21,388.09 L196.07,388.35 L194.10,388.58 L192.34,388.79 L190.85,388.96 L189.67,389.11Z" fill="#000"/>
<g fill="none" stroke="#000">
<circle cx="291.4" cy="95.75" r="27.7" stroke-width="1.15"/>
<rect x="333.6" y="68.4" width="109.8" height="55" rx="27.5" stroke-width="1.15"/>
<path d="M285.95,84.63 A12.20,12.20 0 1 0 296.65,84.63" stroke-width="2.6" stroke-linecap="butt"/>
<path d="M291.4,81.3 V98.4" stroke-width="2.8"/>
<circle cx="354.4" cy="210.4" r="20.1" stroke-width="1.2"/>
<circle cx="354.5" cy="338.4" r="20.3" stroke-width="1.2"/>
<path d="M347,211 H361.8" stroke-width="2"/><path d="M354.5,203.3 V217.6" stroke-width="1.4"/>
<path d="M347,338.6 H361.8" stroke-width="2"/>
<circle cx="354.40" cy="275.25" r="36.9" stroke="none" fill="#fff"/>
<path d="M371.72,242.67 A36.90,36.90 0 0 1 371.72,307.83" stroke-width="1"/>
<path d="M337.08,307.83 A36.90,36.90 0 0 1 337.08,242.67" stroke-width="1"/>
<path d="M337.08,242.67 A36.90,36.90 0 0 1 371.72,242.67" stroke-width="1" stroke-dasharray="4.2 1.1"/>
<path d="M371.72,307.83 A36.90,36.90 0 0 1 337.08,307.83" stroke-width="1" stroke-dasharray="4.2 1.1"/>
<circle cx="354.40" cy="275.25" r="32.6" stroke-width="0.8" stroke-opacity="0.5"/>
<path d="M326.67,257.92 A32.70,32.70 0 0 1 342.15,244.93" stroke-width="2.3" stroke-linecap="round"/>
<path d="M366.65,244.93 A32.70,32.70 0 0 1 382.72,258.90" stroke-width="2.3" stroke-linecap="round"/>
<path d="M384.04,289.07 A32.70,32.70 0 0 1 367.70,305.12" stroke-width="2.3" stroke-linecap="round"/>
<path d="M341.10,305.12 A32.70,32.70 0 0 1 324.53,288.55" stroke-width="2.3" stroke-linecap="round"/>
<path d="M344.99,244.46 A32.20,32.20 0 0 1 362.19,244.01" stroke-width="1.2"/>
<path d="M323.06,284.24 A32.60,32.60 0 0 1 323.40,265.18" stroke-width="1.6" stroke-dasharray="3.4 1.4"/>
<path d="M385.40,265.18 A32.60,32.60 0 0 1 385.74,284.24" stroke-width="1.6" stroke-dasharray="3.4 1.4"/>
</g>
<g transform="translate(354.3,275.1) scale(0.97)" fill="none" stroke="#000" stroke-width="1.75" stroke-linejoin="round">
<path transform="rotate(0)" d="M0,0 C-1.2,-4 -0.6,-8.5 2.3,-12.8 L1.4,-13.9 C-1,-14.3 -3,-14.2 -4.6,-13.6 C-7.5,-12.3 -9,-10 -9.1,-7.4 C-9,-4.2 -7,-1.8 -3.2,-0.6 Z"/>
<path transform="rotate(90)" d="M0,0 C-1.2,-4 -0.6,-8.5 2.3,-12.8 L1.4,-13.9 C-1,-14.3 -3,-14.2 -4.6,-13.6 C-7.5,-12.3 -9,-10 -9.1,-7.4 C-9,-4.2 -7,-1.8 -3.2,-0.6 Z"/>
<path transform="rotate(180)" d="M0,0 C-1.2,-4 -0.6,-8.5 2.3,-12.8 L1.4,-13.9 C-1,-14.3 -3,-14.2 -4.6,-13.6 C-7.5,-12.3 -9,-10 -9.1,-7.4 C-9,-4.2 -7,-1.8 -3.2,-0.6 Z"/>
<path transform="rotate(270)" d="M0,0 C-1.2,-4 -0.6,-8.5 2.3,-12.8 L1.4,-13.9 C-1,-14.3 -3,-14.2 -4.6,-13.6 C-7.5,-12.3 -9,-10 -9.1,-7.4 C-9,-4.2 -7,-1.8 -3.2,-0.6 Z"/>
</g>
<g transform="translate(250,193)"><g fill="none" stroke="#000" stroke-width="1.3" stroke-linejoin="round" stroke-linecap="round"><path d="M5.3,10.9 L7.2,9.2 L10.6,7.5 L13.4,6.3 H24.5 L29,7.5 L32,9.2 L33.7,10.9 L25.2,21.2 M5.3,10.9 L11.7,20.3 H25"/><path d="M14.4,12.2 V19.5 M18.4,12.2 V19.5 M23.1,13.5 V19.5" stroke-width="1.5"/><path d="M15,19.3 H24.6" stroke-width="1.4"/><path d="M16.3,20.5 L14.4,25.2 M20.2,20.5 L18.6,25.2 M24.1,20.5 L22.5,25.2" stroke-width="1.4"/></g></g>
<g transform="translate(420,193)"><g fill="none" stroke="#000" stroke-width="1.3" stroke-linejoin="round" stroke-linecap="round"><path d="M5.3,10.9 L7.2,9.2 L10.6,7.5 L13.4,6.3 H24.5 L29,7.5 L32,9.2 L33.7,10.9 L25.2,21.2 M5.3,10.9 L11.7,20.3 H25"/><path d="M14.4,12.2 V19.5 M18.4,12.2 V19.5 M23.1,13.5 V19.5" stroke-width="1.5"/><path d="M15,19.3 H24.6" stroke-width="1.4"/><path d="M16.3,20.5 L14.4,25.2 M20.2,20.5 L18.6,25.2 M24.1,20.5 L22.5,25.2" stroke-width="1.4"/></g></g>
<g fill="#000">
<path d="M251,288.9 L263.3,277 L264.1,283.7 L268,283.5 L272,282 L276,281 L276,288 L272,288.9 Z"/>
<path d="M262.9,359.9 L271.8,346 L273.9,346 L274.4,350.4 L276.6,351 L285.7,346 L288,350.4 L287,352.6 L276.6,356.8 L265.8,359.9 Z"/>
<path d="M457.8,288.9 L445.2,277.9 L445,283.7 L441.2,283.7 L437,282.5 L433.3,281 L432,287.6 L437,288.9 Z"/>
<path d="M444.7,359.9 L435.4,345 L434.1,350.8 L431.2,351 L423.3,345.8 L421,350.4 L422,352.6 L432.4,356.8 L442.8,359.9 Z"/>
</g>
<circle cx="623.4" cy="56.4" r="20" fill="#fff" stroke="#000" stroke-width="2"/>
<g style="filter:grayscale(1)"><text transform="translate(624.55,67.6) scale(1.12,1)" x="0" y="0" stroke="#fff" stroke-width="0.3" font-family="Liberation Sans, sans-serif" font-size="32.7" text-anchor="middle" fill="#000">B</text></g>
<path d="M339.3,443.1 L352,455.4 L364.5,443.3" fill="none" stroke="#000" stroke-width="1.7"/>
<g style="filter:grayscale(1)"><text stroke="#fff" stroke-width="0.22" x="323.1" y="484.6" font-family="Liberation Sans, sans-serif" font-size="18.2" font-weight="bold" textLength="57.6" lengthAdjust="spacingAndGlyphs" fill="#000">REAR</text></g>
</svg>
</body></html>
